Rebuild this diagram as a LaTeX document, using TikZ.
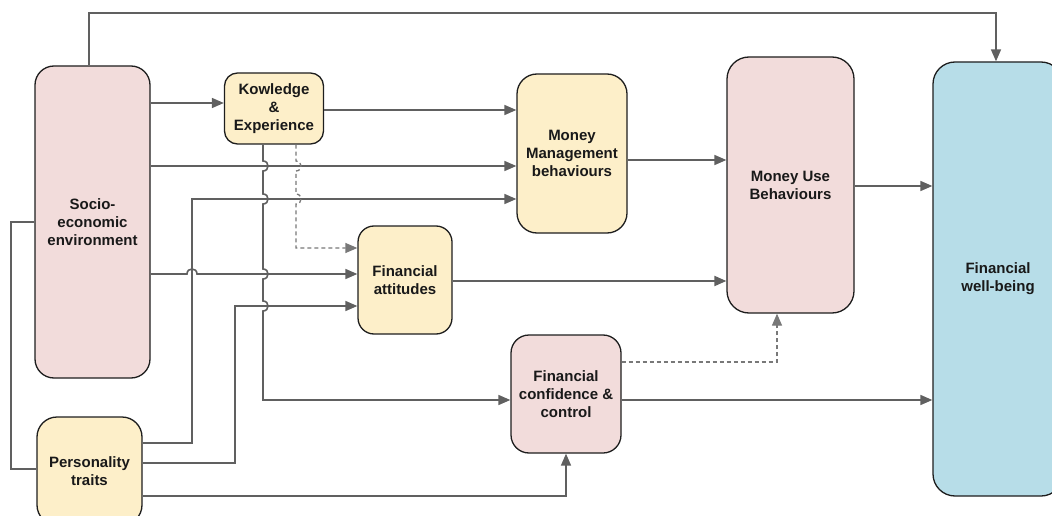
\documentclass[tikz,border=0pt]{standalone}
\usepackage{fontspec}
\setmainfont{Liberation Sans}
\usetikzlibrary{arrows.meta}
\definecolor{pinkfill}{HTML}{F2DCDB}
\definecolor{yelfill}{HTML}{FDEFC9}
\definecolor{bluefill}{HTML}{B7DDE8}
\definecolor{edgecol}{HTML}{1E1E1E}
\definecolor{conncol}{HTML}{606060}
\tikzset{
  box/.style={draw=edgecol, line width=1.3pt, inner sep=0pt, align=center,
    font=\fontsize{15}{18}\selectfont\bfseries, text=black!90},
  pinkbox/.style={box, fill=pinkfill},
  yelbox/.style={box, fill=yelfill},
  bluebox/.style={box, fill=bluefill},
  conn/.style={draw=conncol, line width=1.6pt, -{Triangle[length=12pt,width=10pt]}, line join=miter},
  plainconn/.style={conn, -},
  dconn/.style={conn, draw=conncol!85, line width=1.3pt, dash pattern=on 4pt off 3pt},
}
\begin{document}
\begin{tikzpicture}[x=1pt,y=-1pt]
\useasboundingbox (0,0) rectangle (1052,516);
\clip (0,0) rectangle (1052,516);
% nodes
\node[pinkbox, rounded corners=19pt, minimum width=115pt, minimum height=312pt] (se) at (92.5,222) {Socio-\\economic\\environment};
\node[yelbox, rounded corners=13pt, minimum width=99pt, minimum height=71pt] (ke) at (274,108.5) {Kowledge\\\&\\Experience};
\node[yelbox, rounded corners=20pt, minimum width=110pt, minimum height=159pt] (mmb) at (572,153.5) {Money\\Management\\behaviours};
\node[pinkbox, rounded corners=22pt, minimum width=127pt, minimum height=256pt] (mub) at (790.5,185) {Money Use\\Behaviours};
\node[yelbox, rounded corners=16pt, minimum width=94pt, minimum height=108pt] (fa) at (405,280) {Financial\\attitudes};
\node[pinkbox, rounded corners=18pt, minimum width=110pt, minimum height=118pt] (fc) at (566,394) {Financial\\confidence \&\\control};
\node[bluebox, rounded corners=22pt, minimum width=130pt, minimum height=434pt] (fwb) at (998,279) {Financial\\well-being};
\node[yelbox, rounded corners=20pt, minimum width=105pt, minimum height=108pt] (pt) at (89.5,471) {Personality\\traits};
% connectors
\draw[conn] (se.north -| 89,0) -- (89,13) -- (996,13) -- (fwb.north -| 996,0);
\draw[conn] (se.east |- 0,103) -- (ke.west |- 0,103);
\draw[conn] (se.east |- 0,166) -- (mmb.west |- 0,166);
\draw[conn] (pt.east |- 0,443) -- (192,443) -- (192,199) -- (mmb.west |- 0,199);
\draw[conn] (ke.east |- 0,110) -- (mmb.west |- 0,110);
\draw[conn] (se.east |- 0,274) -- (187,274) .. controls (187,267.3) and (197,267.3) .. (197,274) -- (fa.west |- 0,274);
\draw[conn] (pt.east |- 0,463) -- (235,463) -- (235,306) -- (fa.west |- 0,306);
\draw[conn] (pt.east |- 0,496) -- (566,496) -- (fc.south);
\draw[plainconn] (se.west |- 0,222) -- (11,222) -- (11,469) -- (pt.west |- 0,469);
\draw[conn] (ke.south -| 263,0) -- (263,161) .. controls (269.7,161) and (269.7,171) .. (263,171)
  -- (263,194) .. controls (269.7,194) and (269.7,204) .. (263,204)
  -- (263,269) .. controls (269.7,269) and (269.7,279) .. (263,279)
  -- (263,301) .. controls (269.7,301) and (269.7,311) .. (263,311)
  -- (263,400) -- (fc.west |- 0,400);
\draw[dconn] (ke.south -| 296,0) -- (296,161) .. controls (302.7,161) and (302.7,171) .. (296,171)
  -- (296,194) .. controls (302.7,194) and (302.7,204) .. (296,204)
  -- (296,248) -- (fa.west |- 0,248);
\draw[conn] (mmb.east |- 0,160) -- (mub.west |- 0,160);
\draw[conn, line width=2pt] (fa.east |- 0,281) -- (mub.west |- 0,281);
\draw[conn] (mub.east |- 0,186) -- (fwb.west |- 0,186);
\draw[conn] (fc.east |- 0,400) -- (fwb.west |- 0,400);
\draw[dconn] (fc.east |- 0,362) -- (777,362) -- (mub.south -| 777,0);
\end{tikzpicture}
\end{document}
